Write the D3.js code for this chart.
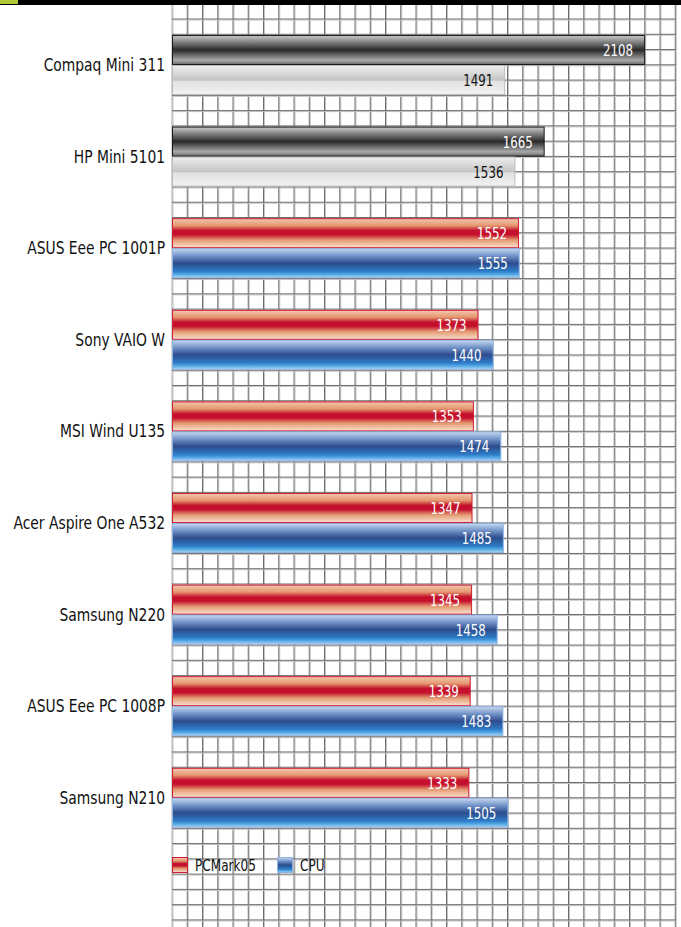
<!DOCTYPE html>
<html>
<head>
    <meta charset="UTF-8">
    <title>Netbook benchmark</title>
    <style>
        body { margin: 0; background: #fff; }
        svg text { font-family: "DejaVu Sans Condensed", "Liberation Sans", sans-serif; }
    </style>
</head>
<body>
    <div id="chart"></div>

    <script src="https://cdnjs.cloudflare.com/ajax/libs/d3/7.8.5/d3.min.js"></script>
    <script>
        // data
        var categories = ["Compaq Mini 311", "HP Mini 5101", "ASUS Eee PC 1001P", "Sony VAIO W",
            "MSI Wind U135", "Acer Aspire One A532", "Samsung N220", "ASUS Eee PC 1008P", "Samsung N210"];
        var series = ["PCMark05", "CPU"];
        var pcmark = [2108, 1665, 1552, 1373, 1353, 1347, 1345, 1339, 1333];
        var cpu = [1491, 1536, 1555, 1440, 1474, 1485, 1458, 1483, 1505];
        var highlighted = ["Compaq Mini 311", "HP Mini 5101"];

        var width = 681;
        var height = 927;
        var plotLeft = 172;

        var svg = d3.select("#chart")
            .append("svg")
            .attr("width", width)
            .attr("height", height);

        var defs = svg.append("defs");

        // vertical gradients for the glossy bars
        function gradient(id, stops) {
            var g = defs.append("linearGradient")
                .attr("id", id)
                .attr("x1", 0).attr("y1", 0).attr("x2", 0).attr("y2", 1);
            stops.forEach(function (s) {
                g.append("stop").attr("offset", s[0]).attr("stop-color", s[1]);
            });
        }
        gradient("gDark", [[0, "#c8c8c8"], [0.15, "#9a9a9a"], [0.5, "#2a2a2a"], [0.62, "#555"], [0.85, "#a8a8a8"], [1, "#6a6a6a"]]);
        gradient("gLight", [[0, "#ececec"], [0.2, "#dedede"], [0.5, "#c4c4c4"], [0.55, "#e2e2e2"], [1, "#f2f2f2"]]);
        gradient("gRed", [[0, "#f2c8ae"], [0.24, "#e4966e"], [0.41, "#c4102c"], [0.55, "#c4102c"], [0.74, "#e49c74"], [1, "#f8e0cf"]]);
        gradient("gBlue", [[0, "#c8d8f0"], [0.25, "#7092c8"], [0.5, "#2c4c8c"], [0.78, "#2e7cc8"], [0.9, "#5aaee8"], [1, "#b8d4f0"]]);

        var styles = {
            PCMark05: { fill: "url(#gRed)", stroke: "#d41c36", text: "#fff" },
            CPU: { fill: "url(#gBlue)", stroke: "#8fb4e4", text: "#fff" },
            hiPCMark05: { fill: "url(#gDark)", stroke: "#1a1a1a", text: "#fff" },
            hiCPU: { fill: "url(#gLight)", stroke: "#bcbcbc", text: "#111" }
        };

        // grid
        var gx = d3.scaleLinear().domain([0, 33]).range([plotLeft, plotLeft + 33 * 15.25]);
        var gy = d3.scaleLinear().domain([0, 59]).range([19, 19 + 59 * 15.27]);

        var grid = svg.append("g");
        grid.selectAll(".vs").data(d3.range(34)).enter().append("line")
            .attr("x1", function (d) { return gx(d) + 1; }).attr("x2", function (d) { return gx(d) + 1; })
            .attr("y1", 5).attr("y2", height)
            .style("stroke", "#c4c4c4").style("stroke-width", 1);
        grid.selectAll(".vl").data(d3.range(34)).enter().append("line")
            .attr("x1", function (d) { return gx(d); }).attr("x2", function (d) { return gx(d); })
            .attr("y1", 5).attr("y2", height)
            .style("stroke", function (d) { return d === 0 ? "#aaa" : "#6e6e6e"; })
            .style("stroke-width", 1);
        grid.selectAll(".hs").data(d3.range(60)).enter().append("line")
            .attr("x1", plotLeft).attr("x2", gx(33) + 1)
            .attr("y1", function (d) { return gy(d) + 1; }).attr("y2", function (d) { return gy(d) + 1; })
            .style("stroke", "#c4c4c4").style("stroke-width", 1);
        grid.selectAll(".hl").data(d3.range(60)).enter().append("line")
            .attr("x1", plotLeft).attr("x2", gx(33) + 1)
            .attr("y1", function (d) { return gy(d); }).attr("y2", function (d) { return gy(d); })
            .style("stroke", "#6e6e6e").style("stroke-width", 1);

        // scales
        var x = d3.scaleLinear().domain([0, 2200]).range([167, 666]);
        var y = d3.scaleBand().domain(categories).range([35, 827.8]).paddingInner(0.345).paddingOuter(0);
        var ySub = d3.scaleBand().domain(series).range([0, y.bandwidth()]);

        var rows = categories.map(function (c, i) {
            return { name: c, values: [{ key: "PCMark05", v: pcmark[i] }, { key: "CPU", v: cpu[i] }] };
        });

        function styleOf(row, key) {
            return highlighted.indexOf(row.name) >= 0 ? styles["hi" + key] : styles[key];
        }

        // narrow the font like a condensed face
        function place(px, py, k) {
            return "translate(" + px + "," + py + ") scale(" + k + ",1)";
        }

        var groups = svg.append("g").selectAll("g")
            .data(rows)
            .enter()
            .append("g")
            .attr("transform", function (d) { return "translate(0," + y(d.name) + ")"; });

        groups.selectAll("rect")
            .data(function (d) { return d.values.map(function (v) { return { row: d, key: v.key, v: v.v }; }); })
            .enter()
            .append("rect")
            .attr("x", plotLeft + 0.5)
            .attr("y", function (d) { return ySub(d.key) + 0.5; })
            .attr("width", function (d) { return x(d.v) - plotLeft - 1; })
            .attr("height", ySub.bandwidth() - 1)
            .style("fill", function (d) { return styleOf(d.row, d.key).fill; })
            .style("stroke", function (d) { return styleOf(d.row, d.key).stroke; })
            .style("stroke-width", 1);

        groups.selectAll(".val")
            .data(function (d) { return d.values.map(function (v) { return { row: d, key: v.key, v: v.v }; }); })
            .enter()
            .append("text")
            .attr("transform", function (d) { return place(x(d.v) - 12, ySub(d.key) + ySub.bandwidth() / 2 + 6, 0.82); })
            .attr("text-anchor", "end")
            .style("font-size", "16px")
            .style("fill", function (d) { return styleOf(d.row, d.key).text; })
            .text(function (d) { return d.v; });

        // category labels
        groups.append("text")
            .attr("transform", place(165, y.bandwidth() / 2 + 6, 0.88))
            .attr("text-anchor", "end")
            .style("font-size", "17.5px")
            .style("fill", "#111")
            .text(function (d) { return d.name; });

        // legend
        var legend = svg.append("g").attr("transform", "translate(172,857)");
        var lx = [0, 105];
        series.forEach(function (s, i) {
            var item = legend.append("g").attr("transform", "translate(" + lx[i] + ",0)");
            item.append("rect")
                .attr("x", 0.5).attr("y", 0.5).attr("width", 15).attr("height", 15)
                .style("fill", styles[s].fill).style("stroke", styles[s].stroke);
            item.append("text")
                .attr("transform", place(23, 14, 0.84))
                .style("font-size", "16px").style("fill", "#111")
                .text(s);
        });

        // header band
        svg.append("rect").attr("x", 0).attr("y", 0).attr("width", width).attr("height", 5).style("fill", "#000");
        svg.append("rect").attr("x", 0).attr("y", 0).attr("width", 18).attr("height", 4).style("fill", "#b4c836");
    </script>
</body>
</html>
